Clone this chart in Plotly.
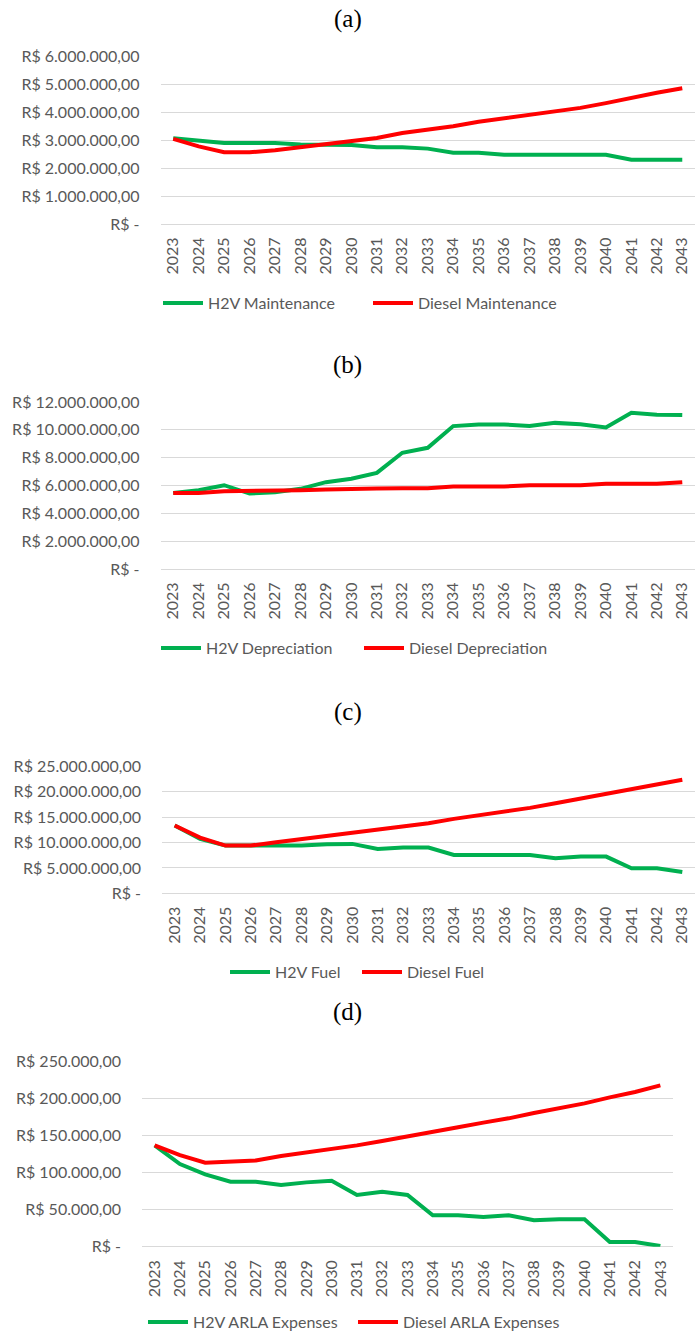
import plotly.graph_objects as go

years = [str(y) for y in range(2023, 2044)]

h2v_maint = [3.07e6, 2.97e6, 2.90e6, 2.90e6, 2.90e6, 2.85e6, 2.85e6, 2.83e6, 2.75e6, 2.75e6, 2.70e6,
             2.55e6, 2.55e6, 2.48e6, 2.48e6, 2.48e6, 2.48e6, 2.48e6, 2.30e6, 2.30e6, 2.30e6]
diesel_maint = [3.05e6, 2.78e6, 2.57e6, 2.57e6, 2.64e6, 2.75e6, 2.83e6, 2.94e6, 3.08e6, 3.26e6, 3.38e6,
                3.50e6, 3.66e6, 3.78e6, 3.93e6, 4.02e6, 4.16e6, 4.33e6, 4.53e6, 4.70e6, 4.86e6]

h2v_depr = [5.47e6, 5.66e6, 6.02e6, 5.42e6, 5.52e6, 5.76e6, 6.24e6, 6.48e6, 6.91e6, 8.35e6, 8.71e6,
            10.27e6, 10.39e6, 10.39e6, 10.27e6, 10.50e6, 10.40e6, 10.17e6, 11.23e6, 11.09e6, 11.06e6]
diesel_depr = [5.47e6, 5.47e6, 5.59e6, 5.59e6, 5.59e6, 5.66e6, 5.71e6, 5.71e6, 5.78e6, 5.81e6, 5.81e6,
               5.93e6, 5.93e6, 5.93e6, 6.02e6, 6.02e6, 6.02e6, 6.12e6, 6.12e6, 6.12e6, 6.24e6]

h2v_fuel = [13.36e6, 10.72e6, 9.41e6, 9.41e6, 9.41e6, 9.41e6, 9.67e6, 9.74e6, 8.75e6, 9.01e6, 9.01e6,
            7.57e6, 7.57e6, 7.57e6, 7.57e6, 6.91e6, 7.24e6, 7.24e6, 4.93e6, 4.93e6, 4.21e6]
diesel_fuel = [13.36e6, 10.99e6, 9.41e6, 9.41e6, 10.07e6, 10.72e6, 11.32e6, 11.91e6, 12.57e6, 13.16e6, 13.82e6,
               14.67e6, 15.39e6, 16.18e6, 16.84e6, 17.76e6, 18.68e6, 19.60e6, 20.59e6, 21.58e6, 22.37e6]

h2v_arla = [136.4e3, 111.3e3, 97.4e3, 87.5e3, 87.5e3, 83.0e3, 86.6e3, 88.9e3, 69.6e3, 74.1e3, 69.6e3,
            42.2e3, 42.2e3, 40.0e3, 42.2e3, 35.5e3, 36.8e3, 36.8e3, 6.3e3, 6.3e3, 0.9e3]
diesel_arla = [136.4e3, 123.4e3, 113.1e3, 114.5e3, 116.2e3, 122.1e3, 126.6e3, 132.4e3, 136.4e3, 142.3e3, 148.1e3,
               154.4e3, 160.7e3, 167.0e3, 172.8e3, 180.0e3, 186.3e3, 193.0e3, 201.0e3, 208.3e3, 217.2e3]

ticks_a = [0, 1e6, 2e6, 3e6, 4e6, 5e6, 6e6]
labels_a = ["R$ -", "R$ 1.000.000,00", "R$ 2.000.000,00", "R$ 3.000.000,00",
            "R$ 4.000.000,00", "R$ 5.000.000,00", "R$ 6.000.000,00"]
ticks_b = [0, 2e6, 4e6, 6e6, 8e6, 10e6, 12e6]
labels_b = ["R$ -", "R$ 2.000.000,00", "R$ 4.000.000,00", "R$ 6.000.000,00",
            "R$ 8.000.000,00", "R$ 10.000.000,00", "R$ 12.000.000,00"]
ticks_c = [0, 5e6, 10e6, 15e6, 20e6, 25e6]
labels_c = ["R$ -", "R$ 5.000.000,00", "R$ 10.000.000,00", "R$ 15.000.000,00",
            "R$ 20.000.000,00", "R$ 25.000.000,00"]
ticks_d = [0, 50e3, 100e3, 150e3, 200e3, 250e3]
labels_d = ["R$ -", "R$ 50.000,00", "R$ 100.000,00", "R$ 150.000,00",
            "R$ 200.000,00", "R$ 250.000,00"]

titles = ["(a)", "(b)", "(c)", "(d)"]
names = [("H2V Maintenance", "Diesel Maintenance"),
         ("H2V Depreciation", "Diesel Depreciation"),
         ("H2V Fuel", "Diesel Fuel"),
         ("H2V ARLA Expenses", "Diesel ARLA Expenses")]

W, H = 695, 1331
GREEN = "#00b050"
RED = "#ff0000"
GREY = "#595959"
GRID = "#d9d9d9"
FONT = "Lato"


def py(px):
    return 1 - px / H


def pxx(px):
    return px / W


panels = [
    dict(h2v=h2v_maint, dsl=diesel_maint, ticks=ticks_a, labels=labels_a, ymax=6e6,
         top=56.5, bottom=224.0, left=160.5, right=695, title_y=19, leg_y=303, leg_x=164, ew=155),
    dict(h2v=h2v_depr, dsl=diesel_depr, ticks=ticks_b, labels=labels_b, ymax=12e6,
         top=402.0, bottom=569.0, left=160.5, right=695, title_y=365, leg_y=648, leg_x=162, ew=148),
    dict(h2v=h2v_fuel, dsl=diesel_fuel, ticks=ticks_c, labels=labels_c, ymax=25e6,
         top=766.5, bottom=893.3, left=162.0, right=695, title_y=712, leg_y=972, leg_x=231, ew=77),
    dict(h2v=h2v_arla, dsl=diesel_arla, ticks=ticks_d, labels=labels_d, ymax=250e3,
         top=1061.0, bottom=1246.7, left=142.0, right=673, title_y=1012, leg_y=1322, leg_x=149, ew=155),
]

fig = go.Figure()
layout = dict(
    width=W, height=H, margin=dict(l=0, r=0, t=0, b=0, autoexpand=False),
    paper_bgcolor="white", plot_bgcolor="white",
    font=dict(family=FONT, size=16, color=GREY),
    hovermode=False,
    annotations=[],
)

for i, p in enumerate(panels):
    k = "" if i == 0 else str(i + 1)
    leg = "legend" + k
    n1, n2 = names[i]
    fig.add_trace(go.Scatter(x=years, y=p["h2v"], name=n1, mode="lines",
                             line=dict(color=GREEN, width=4),
                             xaxis="x" + k, yaxis="y" + k, legend=leg))
    fig.add_trace(go.Scatter(x=years, y=p["dsl"], name=n2, mode="lines",
                             line=dict(color=RED, width=4),
                             xaxis="x" + k, yaxis="y" + k, legend=leg))
    layout["xaxis" + k] = dict(
        type="category", range=[-0.5, 20.5],
        domain=[pxx(p["left"]), pxx(p["right"])], automargin=False,
        anchor="y" + k, tickangle=-90, showgrid=False, showline=False,
        zeroline=False, ticks="outside", ticklen=6, tickcolor="rgba(0,0,0,0)",
        tickfont=dict(family=FONT, size=16, color=GREY),
    )
    layout["yaxis" + k] = dict(
        range=[0, p["ymax"]], domain=[py(p["bottom"]), py(p["top"])],
        anchor="x" + k, tickvals=p["ticks"], ticktext=p["labels"], automargin=False,
        showgrid=True, gridcolor=GRID, gridwidth=1.3,
        zeroline=True, zerolinecolor=GRID, zerolinewidth=1.3,
        showline=False, ticks="", ticklabelstandoff=20,
        tickfont=dict(family=FONT, size=16, color=GREY),
    )
    layout[leg] = dict(
        orientation="h", x=pxx(p["leg_x"] - 6), xanchor="left",
        y=py(p["leg_y"]), yanchor="middle",
        font=dict(family=FONT, size=16, color=GREY),
        bgcolor="rgba(0,0,0,0)", itemwidth=40, tracegroupgap=0,
        entrywidth=p["ew"], entrywidthmode="pixels",
    )
    layout["annotations"].append(dict(
        text=titles[i], x=0.5, xref="paper", y=py(p["title_y"]), yref="paper",
        xanchor="center", yanchor="middle", showarrow=False,
        font=dict(family="Liberation Serif", size=25, color="black"),
    ))

fig.update_layout(**layout)
fig.write_html(
    "out.html",
    config={"displayModeBar": False},
    post_script="document.body.style.margin='0';document.body.style.overflow='hidden';",
)
